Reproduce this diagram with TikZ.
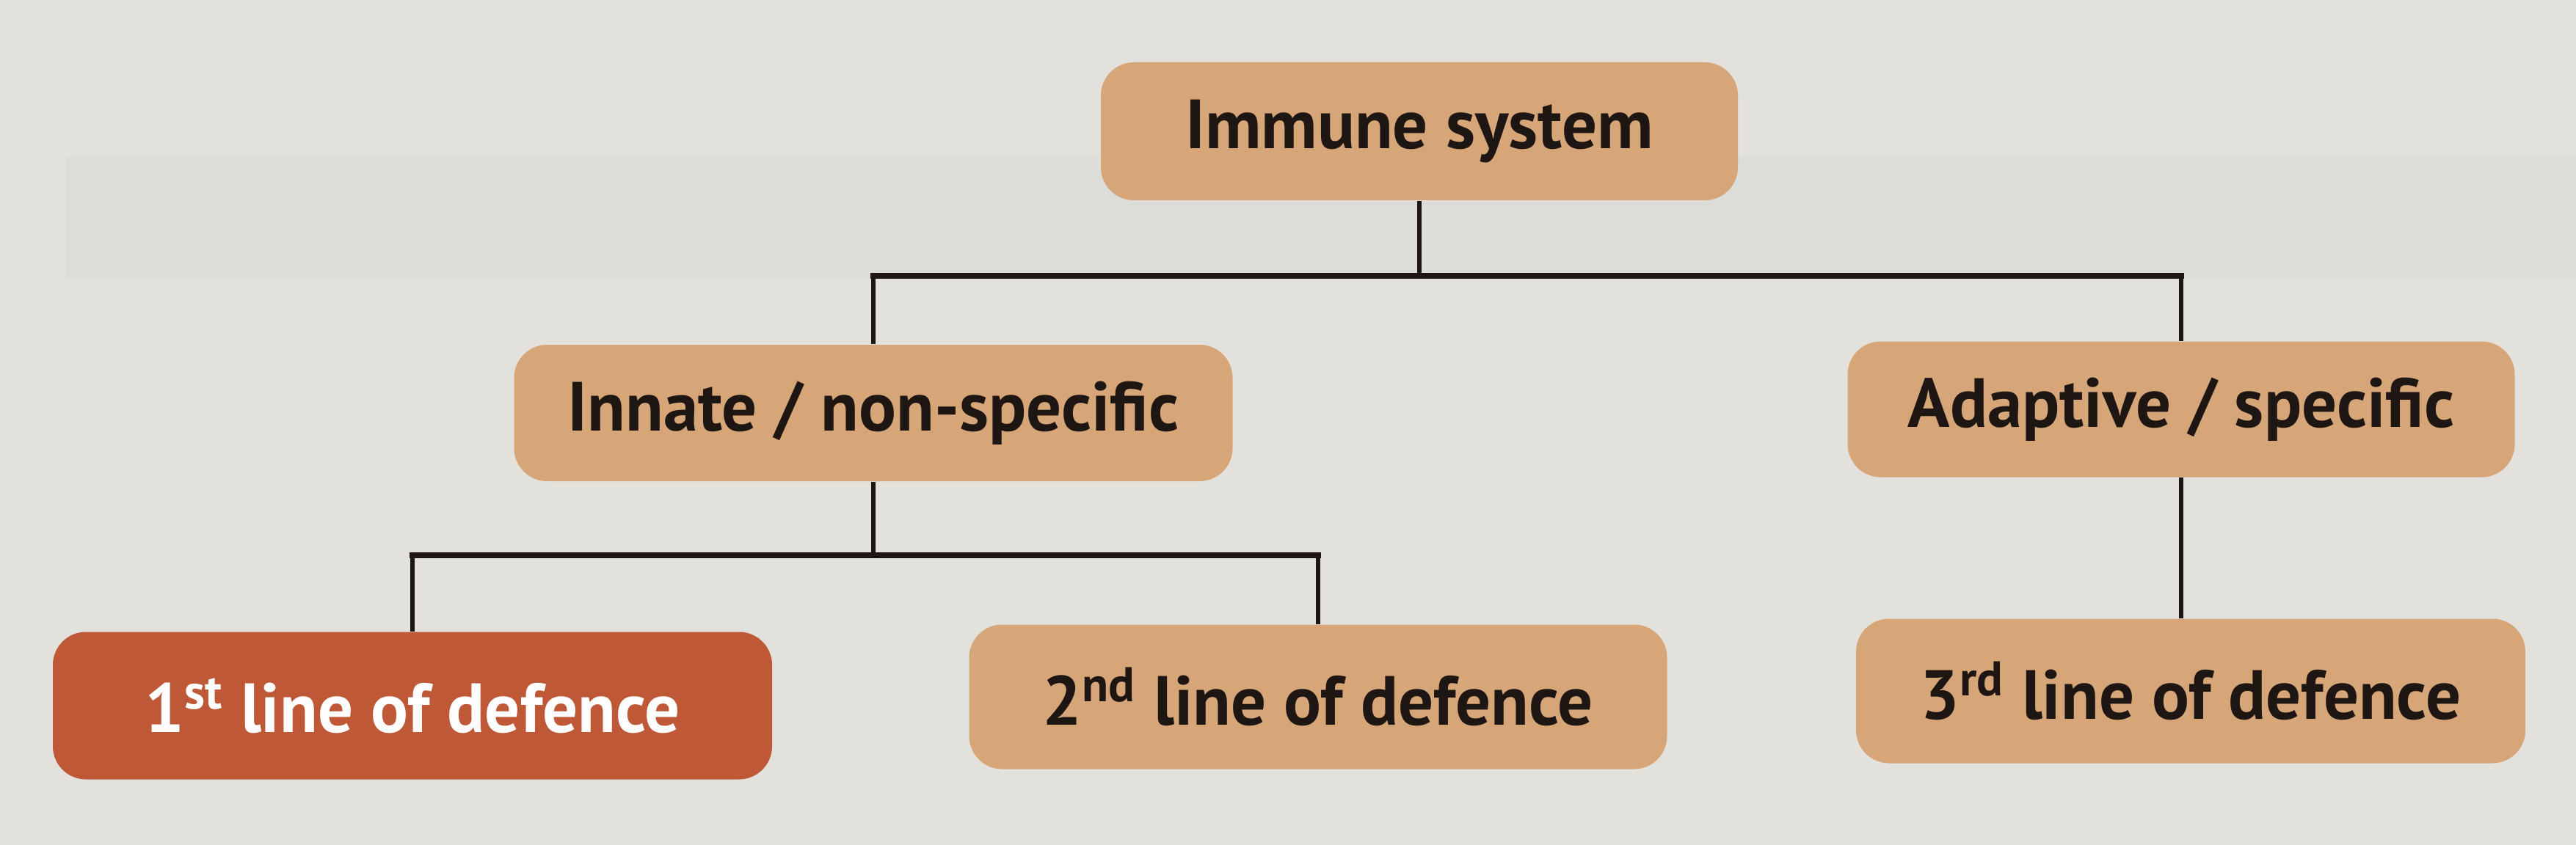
\documentclass[tikz,border=0pt]{standalone}
\usepackage{fontspec}
\setmainfont{PT Sans}
\usepackage{xcolor}
\usepackage{tikz}
\usetikzlibrary{positioning,calc}

\definecolor{paper}{HTML}{E3E1DB}
\definecolor{band}{HTML}{DCDDD8}
\definecolor{tan}{HTML}{D6A679}
\definecolor{rust}{HTML}{BE5837}
\definecolor{ink}{HTML}{1E1612}

\begin{document}
\begin{tikzpicture}[
    box/.style={rectangle, rounded corners=0.45cm, fill=tan, text=ink,
        font=\fontsize{27}{32}\selectfont\bfseries, inner sep=0pt},
    firstbox/.style={box, fill=rust, text=white},
    link/.style={draw=ink, line width=1.5pt},
    bar/.style={draw=ink, line width=2.4pt, line cap=rect}
]
    \fill[paper] (0,0) rectangle (35.1,-11.52);
    \fill[band] (0.9,-2.13) rectangle (35.1,-3.8);
    \useasboundingbox (0,0) rectangle (35.1,-11.52);

    \node[box, minimum width=8.68cm, minimum height=1.88cm] (imm) at (19.34,-1.79) {Immune system};
    \node[box, minimum width=9.79cm, minimum height=1.86cm] (inn) at (11.90,-5.63) {Innate / non-specific};
    \node[box, minimum width=9.09cm, minimum height=1.85cm] (ada) at (29.72,-5.58) {Adaptive / specific};
    \node[firstbox, minimum width=9.80cm, minimum height=2.01cm] (first) at (5.62,-9.62) {1\textsuperscript{st} line of defence};
    \node[box, minimum width=9.51cm, minimum height=1.97cm] (second) at (17.96,-9.50) {2\textsuperscript{nd} line of defence};
    \node[box, minimum width=9.12cm, minimum height=1.97cm] (third) at (29.85,-9.42) {3\textsuperscript{rd} line of defence};

    \coordinate (split1) at (19.34,-3.76);
    \coordinate (split2) at (11.90,-7.57);

    % top level
    \draw[link] (imm.south) -- (split1);
    \draw[link] (inn.north) -- (inn.north |- split1);
    \draw[link] (ada.north) -- (ada.north |- split1);
    \draw[bar] (inn.north |- split1) -- (ada.north |- split1);

    % innate branch
    \draw[link] (inn.south) -- (split2);
    \draw[link] (first.north) -- (first.north |- split2);
    \draw[link] (second.north) -- (second.north |- split2);
    \draw[bar] (first.north |- split2) -- (second.north |- split2);

    % adaptive branch
    \draw[link] (ada.south) -- (ada.south |- third.north);
\end{tikzpicture}
\end{document}
